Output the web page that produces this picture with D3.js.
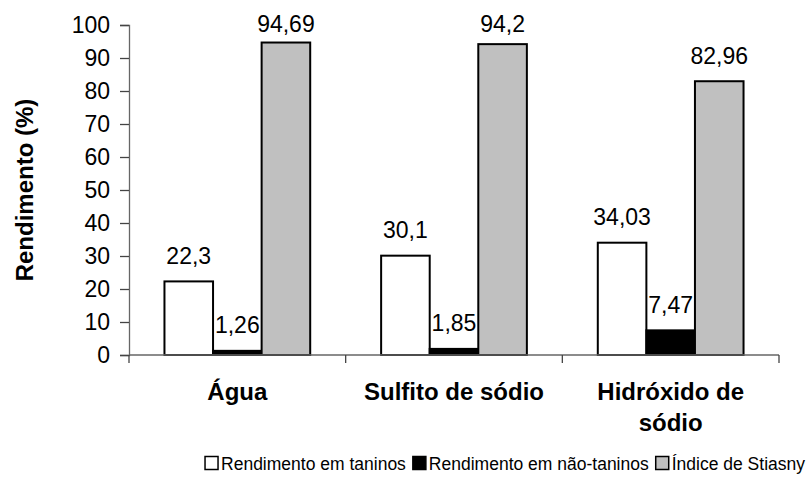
<!DOCTYPE html>
<html>
<head>
<meta charset="utf-8">
<script src="https://cdn.jsdelivr.net/npm/d3@7"></script>
<style>
  body { margin: 0; background: #fff; }
  svg { display: block; font-family: "Liberation Sans", Arial, sans-serif; }
</style>
</head>
<body>
<div class="chart"></div>
<script>
const categories = [["Água"], ["Sulfito de sódio"], ["Hidróxido de", "sódio"]];
const series = ["Rendimento em taninos", "Rendimento em não-taninos", "Índice de Stiasny"];
const taninos = [22.3, 30.1, 34.03];
const naoTaninos = [1.26, 1.85, 7.47];
const stiasny = [94.69, 94.2, 82.96];
const labels = [["22,3", "30,1", "34,03"], ["1,26", "1,85", "7,47"], ["94,69", "94,2", "82,96"]];
const yTicks = [0, 10, 20, 30, 40, 50, 60, 70, 80, 90, 100];

const colors = ["#ffffff", "#000000", "#c0c0c0"];
const values = [taninos, naoTaninos, stiasny];

const width = 810, height = 489;
const margin = { top: 25, right: 31, bottom: 134, left: 129 };

const svg = d3.select(".chart").append("svg")
    .attr("width", width)
    .attr("height", height);

const catKeys = categories.map(c => c.join(" "));

const x = d3.scaleBand()
    .domain(catKeys)
    .range([margin.left, width - margin.right]);

const x1 = d3.scaleBand()
    .domain(series)
    .range([0, x.bandwidth()])
    .paddingOuter(0.73);

const y = d3.scaleLinear()
    .domain([0, 100])
    .range([height - margin.bottom, margin.top]);

// bars
const groups = svg.append("g").selectAll("g")
    .data(catKeys)
    .join("g")
    .attr("transform", d => `translate(${x(d)},0)`);

groups.each(function(cat, ci) {
    const g = d3.select(this);
    series.forEach((s, si) => {
        const v = values[si][ci];
        g.append("rect")
            .attr("x", x1(s))
            .attr("y", y(v))
            .attr("width", x1.bandwidth())
            .attr("height", y(0) - y(v))
            .attr("fill", colors[si])
            .attr("stroke", "#000")
            .attr("stroke-width", 2);
        g.append("text")
            .attr("x", x1(s) + x1.bandwidth() / 2)
            .attr("y", Math.max(y(v) - 17.5, 32))
            .attr("text-anchor", "middle")
            .attr("font-size", 23)
            .attr("fill", "#000")
            .text(labels[si][ci]);
    });
});

// y axis
const yAxis = svg.append("g")
    .attr("transform", `translate(${margin.left},0)`)
    .call(d3.axisLeft(y).tickValues(yTicks).tickSize(9).tickPadding(10));
yAxis.select(".domain").attr("stroke", "#666").attr("stroke-width", 1.3);
yAxis.selectAll(".tick line").attr("stroke", "#444").attr("stroke-width", 1.3);
yAxis.selectAll(".tick text")
    .attr("font-size", 23)
    .attr("fill", "#000")
    .attr("font-family", "Liberation Sans, Arial, sans-serif");

// x axis
const xAxisG = svg.append("g")
    .attr("transform", `translate(0,${y(0)})`);
xAxisG.append("line")
    .attr("x1", margin.left).attr("x2", width - margin.right)
    .attr("stroke", "#666").attr("stroke-width", 1.3);
const bounds = catKeys.map(k => x(k)).concat([x(catKeys[catKeys.length - 1]) + x.bandwidth()]);
xAxisG.selectAll(".sep")
    .data(bounds)
    .join("line")
    .attr("x1", d => d).attr("x2", d => d)
    .attr("y1", 0).attr("y2", 8)
    .attr("stroke", "#444").attr("stroke-width", 1.3);

xAxisG.selectAll(".cat")
    .data(categories)
    .join("text")
    .attr("text-anchor", "middle")
    .attr("font-size", 24)
    .attr("font-weight", "bold")
    .attr("fill", "#000")
    .each(function(lines, i) {
        const t = d3.select(this);
        lines.forEach((ln, li) => {
            t.append("tspan")
                .attr("x", x(catKeys[i]) + x.bandwidth() / 2)
                .attr("y", 45 + li * 31)
                .text(ln);
        });
    });

// y title
svg.append("text")
    .attr("transform", `translate(33,${(y(0) + y(100)) / 2}) rotate(-90)`)
    .attr("text-anchor", "middle")
    .attr("font-size", 24)
    .attr("font-weight", "bold")
    .text("Rendimento (%)");

// legend
const legend = svg.append("g");
let lx = 0;
series.forEach((s, i) => {
    const item = legend.append("g").attr("transform", `translate(${lx},0)`);
    item.append("rect")
        .attr("x", 0).attr("y", -6.5)
        .attr("width", 13).attr("height", 13)
        .attr("fill", colors[i])
        .attr("stroke", "#000")
        .attr("stroke-width", 1.5);
    const t = item.append("text")
        .attr("x", 16)
        .attr("y", 6.5)
        .attr("font-size", 17.5)
        .text(s);
    lx += 16 + t.node().getComputedTextLength() + 7;
});
const legendW = lx - 7;
legend.attr("transform", `translate(${805 - legendW},463)`);
</script>
</body>
</html>
